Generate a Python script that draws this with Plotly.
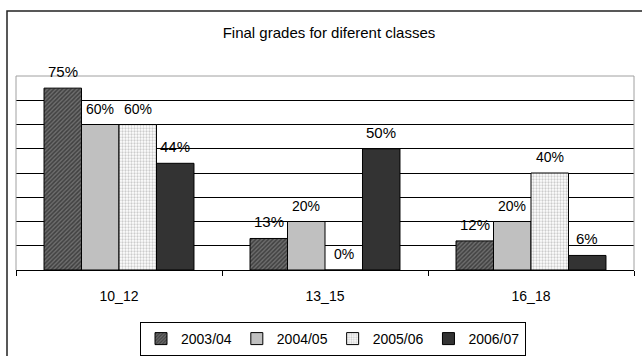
import plotly.graph_objects as go

categories = ["10_12", "13_15", "16_18"]
series_names = ["2003/04", "2004/05", "2005/06", "2006/07"]
v_2003_04 = [0.75, 0.13, 0.12]
v_2004_05 = [0.60, 0.20, 0.20]
v_2005_06 = [0.60, 0.00, 0.40]
v_2006_07 = [0.44, 0.50, 0.06]
series_values = [v_2003_04, v_2004_05, v_2005_06, v_2006_07]

W, H = 642, 356
ML, MR, MT, MB = 16, 8, 76, 86
PW = W - ML - MR
PH = H - MT - MB
BARGAP = 0.272
FONT = "Liberation Sans, Arial, sans-serif"

styles = [
    dict(color="#666666", pattern=dict(shape="/", fgcolor="#111111", bgcolor="#6e6e6e", size=3, solidity=0.5)),
    dict(color="#c0c0c0"),
    dict(color="#ffffff", pattern=dict(shape=".", fgcolor="#9a9a9a", bgcolor="#ffffff", size=3, solidity=0.45)),
    dict(color="#333333"),
]
label_sizes = [15, 14, 14, 15]

fig = go.Figure()
for name, vals, st in zip(series_names, series_values, styles):
    fig.add_trace(go.Bar(
        x=categories, y=vals, name=name,
        marker=dict(line=dict(color="#000000", width=1), **st),
    ))

# data labels
cat_px = PW / len(categories)
bar_px = cat_px * (1 - BARGAP) / len(series_names)
n = len(series_names)
for i, vals in enumerate(series_values):
    for c, v in zip(categories, vals):
        fig.add_annotation(
            x=c, y=v, text=f"{round(v*100)}%", showarrow=False,
            xshift=(i - (n - 1) / 2) * bar_px, yanchor="bottom", yshift=6,
            font=dict(family=FONT, size=label_sizes[i], color="#000000"),
        )

def px2x(p):
    return (p - ML) / PW

def px2y(p):
    return (H - MB - p) / PH

# plot-area border (grey) and outer chart frame (black)
grey = dict(color="#a0a0a0", width=1)
fig.add_shape(type="line", xref="paper", yref="paper", x0=0, x1=1, y0=1, y1=1, line=grey, layer="above")
fig.add_shape(type="line", xref="paper", yref="paper", x0=0, x1=0, y0=0, y1=1, line=grey, layer="above")
fig.add_shape(type="line", xref="paper", yref="paper", x0=1, x1=1, y0=0, y1=1, line=grey, layer="above")
fig.add_shape(type="rect", xref="paper", yref="paper",
              x0=px2x(7), x1=px2x(700), y0=px2y(420), y1=px2y(11),
              line=dict(color="#222222", width=1.5), layer="above")

fig.update_layout(
    width=W, height=H,
    margin=dict(l=ML, r=MR, t=MT, b=MB, pad=0, autoexpand=False),
    paper_bgcolor="#ffffff", plot_bgcolor="#ffffff",
    barmode="group", bargap=BARGAP, bargroupgap=0,
    font=dict(family=FONT, color="#000000"),
    title=dict(text="Final grades for diferent classes", x=329 / W, xanchor="center",
               y=1 - 33 / H, yanchor="middle", yref="container",
               font=dict(family=FONT, size=15, color="#000000")),
    showlegend=True,
    legend=dict(orientation="h", x=px2x(333), xanchor="center", y=px2y(322), yanchor="top",
                bordercolor="#000000", borderwidth=1, font=dict(family=FONT, size=14),
                itemwidth=30, traceorder="normal"),
    xaxis=dict(showline=True, linecolor="#000000", linewidth=1, ticks="outside", tickson="boundaries",
               ticklen=5, tickcolor="#000000", tickfont=dict(family=FONT, size=14),
               ticklabelstandoff=13, showgrid=False, fixedrange=True),
    yaxis=dict(range=[0, 0.8], dtick=0.1, showticklabels=False, showgrid=True, gridcolor="#000000",
               gridwidth=1, zeroline=False, showline=False, ticks="", fixedrange=True),
)

fig.write_html("out.html")
